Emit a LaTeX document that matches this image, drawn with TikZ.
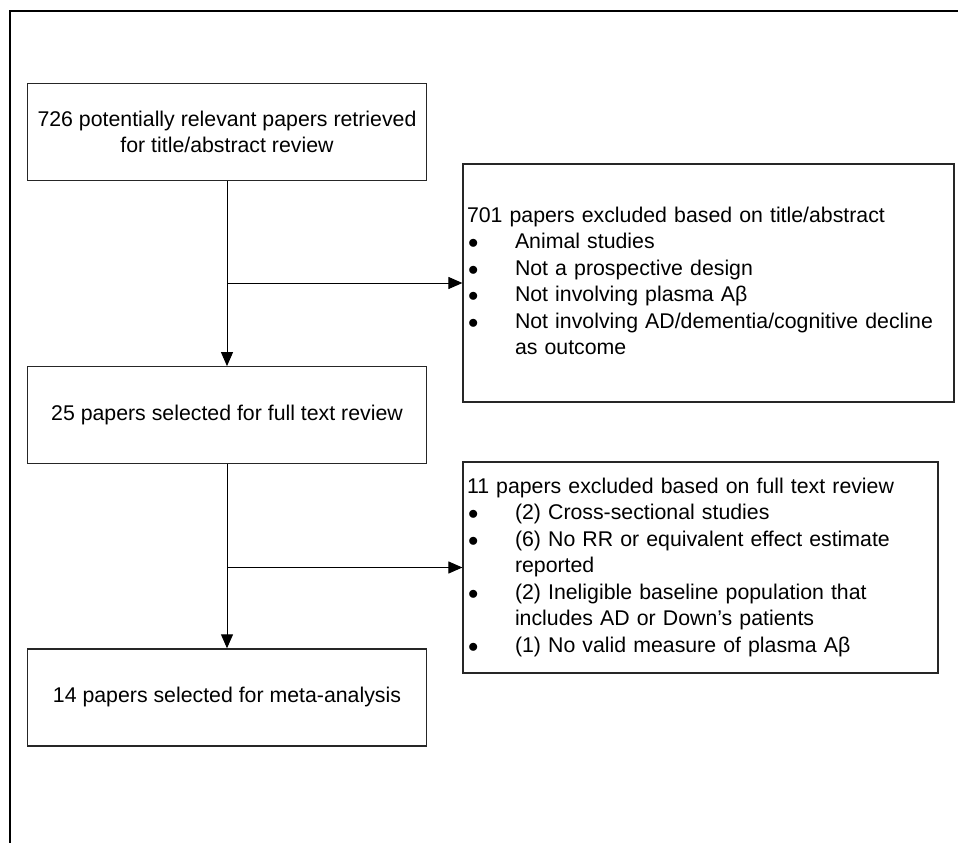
\documentclass[tikz,border=0pt]{standalone}
\usepackage{fontspec}
\setmainfont{Liberation Sans}
\usetikzlibrary{positioning,arrows.meta}

\tikzset{
  stagebox/.style={draw=black!85, line width=1.2pt, minimum width=399pt,
    minimum height=97pt, align=center, inner sep=4pt},
  exclbox/.style={draw=black!85, line width=1.2pt, inner sep=4pt, align=left},
  flow/.style={line width=1pt, -{Triangle[length=14pt,width=12pt]}},
  every node/.style={font=\fontsize{21.3}{26.5}\selectfont}
}
\newcommand{\blt}{\hspace*{1pt}$\bullet$}

\begin{document}
\begin{tikzpicture}[x=1pt, y=-1pt]
  \useasboundingbox (0,0) rectangle (958,843);

  % outer frame
  \draw [line width=2.5pt] (958,11) -- (10,11) -- (10,843);

  % main stages
  \node [stagebox] (retrieved) at (227,132) {726 potentially relevant papers retrieved\\for title/abstract review};
  \node [stagebox, below=185pt of retrieved] (fulltext) {25 papers selected for full text review};
  \node [stagebox, below=184pt of fulltext] (meta) {14 papers selected for meta-analysis};

  % exclusions
  \node [exclbox, minimum width=491pt, minimum height=238pt, text width=483pt] (exclA) at (708.5,283) {%
    \begin{tabular}{@{}p{48pt}@{}l@{}}
      \multicolumn{2}{@{}l@{}}{701 papers excluded based on title/abstract}\\
      \blt & Animal studies\\
      \blt & Not a prospective design\\
      \blt & Not involving plasma Aβ\\
      \blt & Not involving AD/dementia/cognitive decline\\
       & as outcome
    \end{tabular}};
  \node [exclbox, minimum width=475pt, minimum height=211pt, text width=467pt] (exclB) at (700.5,567.5) {%
    \begin{tabular}{@{}p{48pt}@{}l@{}}
      \multicolumn{2}{@{}l@{}}{11 papers excluded based on full text review}\\
      \blt & (2) Cross-sectional studies\\
      \blt & (6) No RR or equivalent effect estimate\\
       & reported\\
      \blt & (2) Ineligible baseline population that\\
       & includes AD or Down’s patients\\
      \blt & (1) No valid measure of plasma Aβ
    \end{tabular}};

  % arrows
  \draw [flow] (retrieved) -- (fulltext);
  \draw [flow] (retrieved.south |- exclA.west) -- (exclA.west);
  \draw [flow] (fulltext) -- (meta);
  \draw [flow] (fulltext.south |- exclB.west) -- (exclB.west);

\end{tikzpicture}
\end{document}
